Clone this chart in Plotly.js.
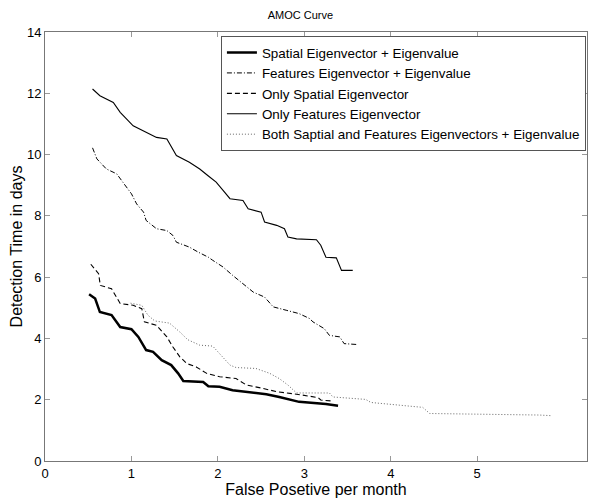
<!DOCTYPE html>
<html>
<head>
<meta charset="utf-8">
<script src="https://cdn.plot.ly/plotly-3.0.1.min.js"></script>
<style>html,body{margin:0;padding:0;background:#fff;}#chart{width:589px;height:499px;}</style>
</head>
<body>
<div id="chart"></div>
<script>
// Series names
const seriesNames = [
  "Spatial Eigenvector + Eigenvalue",
  "Features Eigenvector + Eigenvalue",
  "Only Spatial Eigenvector",
  "Only Features Eigenvector",
  "Both Saptial and Features Eigenvectors + Eigenvalue"
];

// Spatial Eigenvector + Eigenvalue
const spatialEigX = [0.51,0.58,0.635,0.77,0.87,1.0,1.08,1.17,1.25,1.35,1.46,1.54,1.6,1.83,1.89,2.02,2.17,2.33,2.56,2.71,2.94,3.25,3.39];
const spatialEigY = [5.44,5.3,4.86,4.76,4.37,4.3,4.05,3.62,3.56,3.29,3.13,2.86,2.61,2.58,2.44,2.42,2.31,2.26,2.18,2.09,1.93,1.86,1.8];

// Features Eigenvector + Eigenvalue
const featEigX = [0.55,0.6,0.71,0.83,0.9,1.0,1.06,1.14,1.17,1.29,1.41,1.48,1.52,1.67,1.77,1.89,1.94,2.06,2.17,2.29,2.41,2.54,2.64,2.79,2.94,3.06,3.1,3.23,3.29,3.41,3.46,3.62];
const featEigY = [10.22,9.86,9.53,9.37,9.1,8.72,8.39,8.12,7.85,7.58,7.52,7.36,7.14,6.98,6.82,6.65,6.55,6.33,6.06,5.79,5.51,5.35,5.03,4.92,4.81,4.65,4.54,4.32,4.1,4.05,3.83,3.8];

// Only Spatial Eigenvector
const onlySpatialX = [0.53,0.62,0.64,0.77,0.87,1.02,1.12,1.15,1.29,1.41,1.48,1.56,1.64,1.75,1.87,2.02,2.21,2.33,2.52,2.68,2.91,3.1,3.16,3.19,3.31];
const onlySpatialY = [6.42,6.11,5.73,5.62,5.14,5.08,4.97,4.54,4.43,4.05,3.72,3.4,3.18,3.07,2.86,2.75,2.69,2.48,2.37,2.26,2.18,2.09,2.07,1.99,1.96];

// Only Features Eigenvector
const onlyFeatX = [0.55,0.635,0.79,0.87,1.02,1.17,1.29,1.41,1.52,1.67,1.79,1.89,1.98,2.06,2.14,2.29,2.35,2.5,2.54,2.68,2.77,2.81,2.91,3.14,3.19,3.25,3.37,3.43,3.56];
const onlyFeatY = [12.14,11.92,11.7,11.38,10.94,10.73,10.56,10.51,9.97,9.75,9.53,9.3,9.1,8.83,8.56,8.5,8.23,8.12,7.8,7.69,7.58,7.31,7.25,7.22,7.04,6.65,6.63,6.22,6.22];

// Both Spatial and Features Eigenvectors + Eigenvalue
const bothX = [0.99,1.12,1.19,1.27,1.44,1.56,1.65,1.79,1.94,2.02,2.14,2.21,2.44,2.6,2.71,2.81,2.91,3.29,3.33,3.71,3.77,4.37,4.45,5.72,5.85];
const bothY = [5.15,5.08,4.76,4.57,4.5,4.21,3.96,3.78,3.75,3.51,3.13,3.05,3.02,2.86,2.69,2.48,2.22,2.22,2.09,2.01,1.91,1.75,1.55,1.5,1.48];

const xTicks = [0,1,2,3,4,5];
const yTicks = [0,2,4,6,8,10,12,14];

const traces = [
  {x: spatialEigX, y: spatialEigY, name: seriesNames[0], mode: 'lines', line: {color: '#000', width: 2.5}},
  {x: featEigX, y: featEigY, name: seriesNames[1], mode: 'lines', line: {color: '#000', width: 1, dash: '5px,2px,1px,2px'}},
  {x: onlySpatialX, y: onlySpatialY, name: seriesNames[2], mode: 'lines', line: {color: '#000', width: 1.1, dash: '5px,3px'}},
  {x: onlyFeatX, y: onlyFeatY, name: seriesNames[3], mode: 'lines', line: {color: '#000', width: 1.1}},
  {x: bothX, y: bothY, name: seriesNames[4], mode: 'lines', line: {color: '#666', width: 1, dash: '1px,2px'}}
];

const font = "Liberation Sans, Arial, sans-serif";
const layout = {
  width: 589, height: 499,
  margin: {l: 45, r: 2, t: 32, b: 38},
  paper_bgcolor: '#fff', plot_bgcolor: '#fff',
  font: {family: font, color: '#000', size: 13},
  title: {text: 'AMOC Curve', font: {family: font, size: 11, color: '#000'}, x: 0.51, xref: 'container', y: 0.97, yref: 'container', yanchor: 'middle'},
  showlegend: true,
  legend: {
    x: 0.998, xanchor: 'right', y: 0.99, yanchor: 'top',
    bordercolor: '#555', borderwidth: 1, bgcolor: '#fff',
    font: {family: font, size: 13.4, color: '#000'},
    tracegroupgap: 0, itemwidth: 30
  },
  xaxis: {
    range: [0, 6.27], tickvals: xTicks, ticktext: xTicks.map(String),
    showgrid: false, zeroline: false,
    showline: true, linecolor: '#777', linewidth: 1, mirror: 'ticks',
    ticks: 'inside', ticklen: 5, tickcolor: '#999',
    tickfont: {family: font, size: 13, color: '#000'},
    title: {text: 'False Posetive per month', font: {family: font, size: 16, color: '#000'}, standoff: 4}
  },
  yaxis: {
    range: [0, 14], tickvals: yTicks, ticktext: yTicks.map(String),
    showgrid: false, zeroline: false,
    showline: true, linecolor: '#777', linewidth: 1, mirror: 'ticks',
    ticks: 'inside', ticklen: 5, tickcolor: '#999',
    tickfont: {family: font, size: 13, color: '#000'},
    title: {text: 'Detection Time in days', font: {family: font, size: 16, color: '#000'}, standoff: 0}
  }
};

Plotly.newPlot('chart', traces, layout, {displayModeBar: false, staticPlot: true});
</script>
</body>
</html>
